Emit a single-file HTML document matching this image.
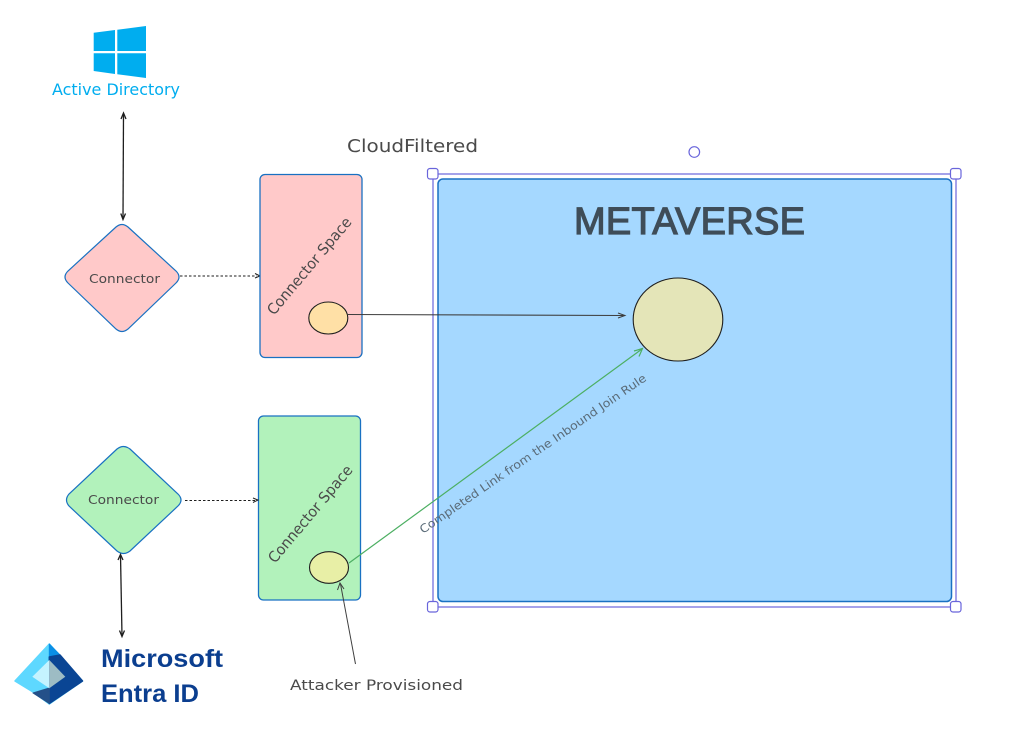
<!DOCTYPE html>
<html>
<head>
<meta charset="utf-8">
<title>Metaverse diagram</title>
<style>
html,body{margin:0;padding:0;background:#fff;width:1024px;height:743px;overflow:hidden}
svg{display:block}
.h{font-family:"DejaVu Sans","Liberation Sans",sans-serif;fill:#4a4a4a}
</style>
</head>
<body>
<svg width="1024" height="743" viewBox="0 0 1024 743" xmlns="http://www.w3.org/2000/svg">
<rect width="1024" height="743" fill="#fff"/>

<!-- Windows logo -->
<g fill="#00adef">
<polygon points="93.700,32.700 115,30 115,51 93.700,51"/>
<polygon points="117.300,29.700 146,26 146,51 117.300,51"/>
<polygon points="93.700,53.300 115,53.300 115,74 93.700,71"/>
<polygon points="117.300,53.300 146,53.300 146,78 117.300,74.300"/>
</g>
<text x="52" y="95" font-family="'DejaVu Sans',sans-serif" font-size="16" fill="#00adef" textLength="128" lengthAdjust="spacingAndGlyphs">Active Directory</text>

<!-- AD arrow -->
<g stroke="#1e1e1e" fill="none" stroke-width="1.300">
<path d="M123.500 114L123 219"/>
<path d="M121 119L123.500 113L126 119M120.800 213.500L123 219.500L125.500 213.500"/>
</g>

<!-- Pink diamond -->
<path d="M116 227Q122 222 128 227L176 271Q182 277 176 283L128 329Q122 334 116 329L68 283Q62 277 68 271Z" fill="#ffc9c9" stroke="#1971c2" stroke-width="1.200"/>
<text class="h" x="89" y="283" font-size="12.500" textLength="71" lengthAdjust="spacingAndGlyphs">Connector</text>
<path d="M180 276H257" stroke="#1e1e1e" stroke-width="1.100" stroke-dasharray="2.500 2" fill="none"/>
<path d="M255 273.500L260 276L255 278" stroke="#1e1e1e" fill="none"/>

<!-- Pink rect -->
<rect x="260" y="174.500" width="102" height="183" rx="5" fill="#ffc9c9" stroke="#1971c2" stroke-width="1.300"/>
<text class="h" font-size="15" transform="translate(274 316) rotate(-50)" textLength="122" lengthAdjust="spacingAndGlyphs">Connector Space</text>
<ellipse cx="328.300" cy="318" rx="19.500" ry="16" fill="#ffe0a6" stroke="#1e1e1e" stroke-width="1.100"/>

<text class="h" x="347" y="152" font-size="18" textLength="131" lengthAdjust="spacingAndGlyphs">CloudFiltered</text>

<!-- Selection frame -->
<rect x="433" y="174" width="523" height="433" fill="none" stroke="#6965db" stroke-width="1.200"/>

<!-- Metaverse rect -->
<rect x="438" y="179" width="513.500" height="422.500" rx="5" fill="#a5d8ff" stroke="#1971c2" stroke-width="1.500"/>
<text x="574" y="234" font-family="'Liberation Sans',sans-serif" font-size="38" fill="#3f4d58" stroke="#3f4d58" stroke-width="1.200" textLength="231" lengthAdjust="spacing">METAVERSE</text>

<!-- Handles -->
<g fill="#fff" stroke="#6965db" stroke-width="1.200">
<rect x="427.500" y="168.500" width="10.500" height="10.500" rx="2.500"/>
<rect x="950.500" y="168.500" width="10.500" height="10.500" rx="2.500"/>
<rect x="427.500" y="601.500" width="10.500" height="10.500" rx="2.500"/>
<rect x="950.500" y="601.500" width="10.500" height="10.500" rx="2.500"/>
<circle cx="694.300" cy="152" r="5.300"/>
</g>

<!-- Big circle -->
<ellipse cx="678" cy="319.500" rx="44.800" ry="41.500" fill="#e4e5b8" stroke="#1e1e1e" stroke-width="1.100"/>

<!-- Horizontal arrow -->
<path d="M348 314.500L624 315.500" stroke="#3d3d3d" stroke-width="1.100" fill="none"/>
<path d="M618 313L625 315.500L618 318" fill="none" stroke="#3d3d3d" stroke-width="1"/>

<!-- Green rect -->
<rect x="258.500" y="416" width="102" height="184" rx="5" fill="#b2f2bb" stroke="#1971c2" stroke-width="1.300"/>
<text class="h" font-size="15" transform="translate(275 564) rotate(-50)" textLength="122" lengthAdjust="spacingAndGlyphs">Connector Space</text>
<ellipse cx="329" cy="567.500" rx="19.500" ry="15.800" fill="#e8efa6" stroke="#1e1e1e" stroke-width="1.100"/>

<!-- Green diamond -->
<path d="M117 449Q123.500 444 130 449L178 494Q184 500 178 506L130 551Q123.500 556 117 551L69 506Q64 500 69 494Z" fill="#b2f2bb" stroke="#1971c2" stroke-width="1.200"/>
<text class="h" x="88" y="504" font-size="12.500" textLength="71" lengthAdjust="spacingAndGlyphs">Connector</text>
<path d="M185 500.500H257" stroke="#1e1e1e" stroke-width="1.100" stroke-dasharray="2.500 2" fill="none"/>
<path d="M253 498L258 500L253 502.500" stroke="#1e1e1e" fill="none"/>

<!-- Entra arrow -->
<g stroke="#1e1e1e" fill="none" stroke-width="1.300">
<path d="M120.500 555L122 636"/>
<path d="M118 560L120.500 554.500L123 560M119.500 630.500L122 636.500L124.500 630.500"/>
</g>

<!-- Green line -->
<path d="M349 563L642 349" stroke="#4caf62" stroke-width="1.200" fill="none"/>
<path d="M634 351L642.500 348.500L639 356.500" stroke="#4caf62" stroke-width="1.200" fill="none"/>
<text class="h" font-size="11.500" style="fill:#5a6b78" transform="translate(423 534) rotate(-34.500)" textLength="272" lengthAdjust="spacingAndGlyphs">Completed Link from the Inbound Join Rule</text>

<!-- Attacker arrow -->
<path d="M355.500 664L340.500 584" stroke="#3d3d3d" stroke-width="1" fill="none"/>
<path d="M337.500 590L340 583L344 589" fill="none" stroke="#3d3d3d" stroke-width="1"/>
<text class="h" x="290" y="690" font-size="14.500" textLength="173" lengthAdjust="spacingAndGlyphs">Attacker Provisioned</text>

<!-- Entra logo -->
<g stroke-linejoin="round">
<polygon points="49.300,644 15,681 33,692 49.300,704 82.500,681" fill="#5ed8ff" stroke="#5ed8ff" stroke-width="1.500"/>
<polygon points="49.300,644 60,655 49.300,657" fill="#0a8fe6" stroke="#0a8fe6" stroke-width="1"/>
<polygon points="49.300,657 60,655 82.500,681 49.300,703.500 49.300,688" fill="#0a4594" stroke="#0a4594" stroke-width="1.500"/>
<polygon points="33,693 49.300,688 49.300,703.500" fill="#245089" stroke="#245089" stroke-width="1"/>
<polygon points="49.300,660 32.300,676.700 49.300,688.300" fill="#c5f3ff"/>
<polygon points="49.300,660 65.300,676.700 49.300,688.300" fill="#9dbcc4"/>
</g>

<text x="101" y="667" font-family="'Liberation Sans',sans-serif" font-weight="bold" font-size="25" fill="#0b3e8f" textLength="122" lengthAdjust="spacingAndGlyphs">Microsoft</text>
<text x="101" y="702" font-family="'Liberation Sans',sans-serif" font-weight="bold" font-size="25" fill="#0b3e8f" textLength="98" lengthAdjust="spacingAndGlyphs">Entra ID</text>
</svg>
</body>
</html>
